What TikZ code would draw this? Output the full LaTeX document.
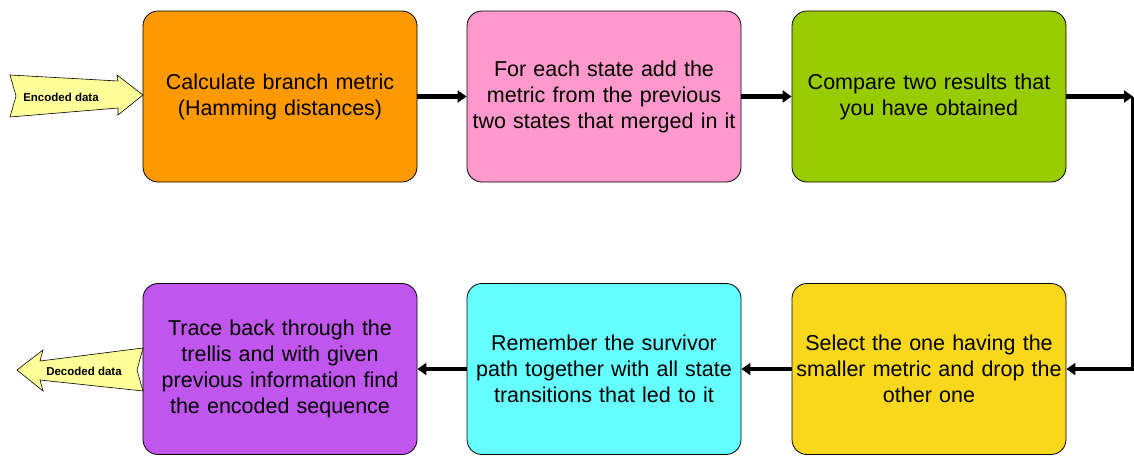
\documentclass[tikz,border=0pt]{standalone}
\usepackage{fontspec}
\setmainfont{Liberation Sans}
\usetikzlibrary{arrows.meta}
\definecolor{cOrange}{HTML}{FF9900}
\definecolor{cPink}{HTML}{FF99CC}
\definecolor{cGreen}{HTML}{99CC00}
\definecolor{cYellow}{HTML}{F9D71C}
\definecolor{cCyan}{HTML}{66FFFF}
\definecolor{cPurple}{HTML}{C056EE}
\definecolor{cPale}{HTML}{FFFF99}
\tikzset{
  stepbox/.style={draw=black, line width=0.8pt, rounded corners=15pt,
    minimum width=274pt, minimum height=171pt, inner sep=0pt,
    align=center, text width=268pt,
    font=\fontsize{21.5}{26}\selectfont},
  flow/.style={line width=4.5pt, -{Triangle[length=9pt,width=12pt]}},
  fat/.style={draw=black, line width=0.6pt, fill=cPale},
  fatlabel/.style={font=\fontsize{11.5}{13}\bfseries\selectfont}
}
\begin{document}
\begin{tikzpicture}[x=1pt,y=-1pt]
\useasboundingbox (0,0) rectangle (1134,455);
% process boxes
\node[stepbox, fill=cOrange] (b1) at (280,96.5) {Calculate branch metric\\(Hamming distances)};
\node[stepbox, fill=cPink]   (b2) at (604,96.5) {For each state add the\\metric from the previous\\two states that merged in it};
\node[stepbox, fill=cGreen]  (b3) at (929,96.5) {Compare two results that\\you have obtained};
\node[stepbox, fill=cYellow] (b4) at (929,369) {Select the one having the\\smaller metric and drop the\\other one};
\node[stepbox, fill=cCyan]   (b5) at (604,369) {Remember the survivor\\path together with all state\\transitions that led to it};
\node[stepbox, fill=cPurple] (b6) at (280,369) {Trace back through the\\trellis and with given\\previous information find\\the encoded sequence};
% connectors
\coordinate (turn) at (1133,96.5);
\draw[flow] (b1) -- (b2);
\draw[flow] (b2) -- (b3);
\draw[flow] (b3.east) -- (turn);
\draw[flow] (turn) |- (b4.east);
\draw[flow] (b4) -- (b5);
\draw[flow] (b5) -- (b6);
% input / output block arrows
\draw[fat] (10,75) -- (118,81) -- (117,75) -- (143,95) -- (118,115) -- (118,108) -- (10,117) -- (16,96) -- cycle;
\node[fatlabel] (inlab) at (61,97) {Encoded data};
\draw[fat] (17,370) -- (43,350) -- (40,361) -- (143,348) -- (137,370) -- (143,391) -- (40,380) -- (43,391) -- cycle;
\node[fatlabel] (outlab) at (84,371) {Decoded data};
\end{tikzpicture}
\end{document}
